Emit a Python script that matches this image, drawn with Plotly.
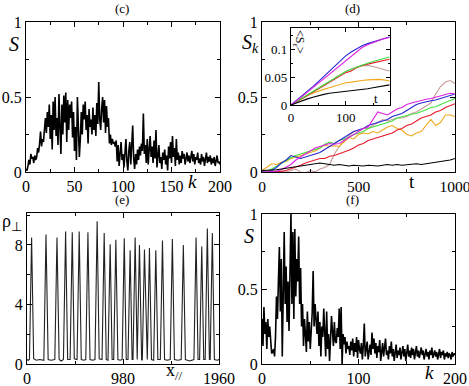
import plotly.graph_objects as go

FONT = "Liberation Serif"
W, H = 469, 386

# ---- (c) S(k) ----
k_vals = list(range(201))
s_c = [0.02, 0.01, 0.04, 0.08, 0.05, 0.12, 0.09, 0.10, 0.06, 0.11,
       0.08, 0.10, 0.16, 0.13, 0.19, 0.27, 0.17, 0.22, 0.20, 0.30,
       0.36, 0.26, 0.40, 0.30, 0.45, 0.22, 0.38, 0.15, 0.47, 0.28,
       0.50, 0.24, 0.36, 0.18, 0.52, 0.30, 0.12, 0.45, 0.25, 0.51,
       0.33, 0.53, 0.20, 0.48, 0.28, 0.45, 0.36, 0.47, 0.23, 0.40,
       0.14, 0.30, 0.08, 0.50, 0.32, 0.10, 0.22, 0.40, 0.25, 0.45,
       0.35, 0.47, 0.28, 0.38, 0.19, 0.42, 0.30, 0.35, 0.25, 0.43,
       0.28, 0.38, 0.24, 0.46, 0.32, 0.60, 0.35, 0.28, 0.42, 0.50,
       0.33, 0.48, 0.26, 0.44, 0.30, 0.36, 0.19, 0.25, 0.18, 0.22,
       0.19, 0.20, 0.17, 0.21, 0.07, 0.18, 0.04, 0.10, 0.20, 0.08,
       0.12, 0.03, 0.16, 0.22, 0.07, 0.01, 0.14, 0.20, 0.05, 0.24,
       0.31, 0.09, 0.02, 0.12, 0.05, 0.15, 0.08, 0.17, 0.11, 0.19,
       0.14, 0.39, 0.12, 0.18, 0.06, 0.22, 0.05, 0.15, 0.24, 0.10,
       0.17, 0.06, 0.21, 0.09, 0.28, 0.03, 0.12, 0.18, 0.06, 0.10,
       0.02, 0.13, 0.08, 0.15, 0.05, 0.11, 0.01, 0.17, 0.09, 0.20,
       0.06, 0.24, 0.10, 0.16, 0.04, 0.22, 0.08, 0.13, 0.05, 0.11,
       0.06, 0.14, 0.09, 0.12, 0.05, 0.10, 0.13, 0.07, 0.11, 0.06,
       0.09, 0.14, 0.07, 0.12, 0.05, 0.10, 0.08, 0.13, 0.06, 0.09,
       0.05, 0.12, 0.07, 0.10, 0.04, 0.09, 0.13, 0.06, 0.10, 0.07,
       0.11, 0.05, 0.09, 0.06, 0.10, 0.04, 0.08, 0.11, 0.06, 0.07,
       0.05]

# ---- (f) S(k) ----
s_f = [0.30, 0.12, 0.38, 0.20, 0.28, 0.10, 0.30, 0.18, 0.25, 0.12,
       0.07, 0.08, 0.10, 0.05, 0.18, 0.45, 0.30, 0.55, 0.78, 0.35,
       0.70, 0.05, 0.50, 0.88, 0.40, 0.65, 0.28, 0.55, 0.22, 0.60,
       1.00, 0.40, 0.88, 0.30, 0.90, 0.45, 0.70, 0.55, 0.85, 0.40,
       0.64, 0.25, 0.40, 0.12, 0.30, 0.20, 0.08, 0.35, 0.15, 0.28,
       0.10, 0.22, 0.34, 0.62, 0.25, 0.40, 0.30, 0.20, 0.35, 0.12,
       0.28, 0.05, 0.25, 0.18, 0.37, 0.22, 0.05, 0.35, 0.10, 0.20,
       0.02, 0.16, 0.32, 0.22, 0.12, 0.28, 0.15, 0.14, 0.24, 0.18,
       0.37, 0.10, 0.38, 0.00, 0.20, 0.13, 0.18, 0.07, 0.15, 0.10,
       0.12, 0.06, 0.15, 0.09, 0.17, 0.05, 0.14, 0.08, 0.18, 0.04,
       0.16, 0.10, 0.07, 0.14, 0.03, 0.12, 0.27, 0.05, 0.11, 0.15,
       0.03, 0.09, 0.13, 0.06, 0.21, 0.10, 0.17, 0.07, 0.14, 0.04,
       0.12, 0.08, 0.16, 0.02, 0.10, 0.14, 0.05, 0.11, 0.17, 0.06,
       0.09, 0.03, 0.12, 0.07, 0.15, 0.05, 0.10, 0.02, 0.08, 0.13,
       0.04, 0.09, 0.06, 0.11, 0.03, 0.08, 0.12, 0.05, 0.10, 0.02,
       0.07, 0.13, 0.05, 0.09, 0.04, 0.11, 0.06, 0.10, 0.03, 0.08,
       0.12, 0.05, 0.09, 0.04, 0.08, 0.11, 0.06, 0.09, 0.03, 0.07,
       0.10, 0.05, 0.08, 0.03, 0.09, 0.06, 0.11, 0.04, 0.07, 0.09,
       0.05, 0.08, 0.03, 0.07, 0.10, 0.04, 0.08, 0.06, 0.09, 0.03,
       0.07, 0.05, 0.08, 0.04, 0.07, 0.06, 0.03, 0.08, 0.05, 0.07,
       0.06]

# ---- (d) S_k(t) ----
t_main = list(range(0, 1001, 25))
sk_black = [0.01, 0.01, 0.01, 0.015, 0.02, 0.025, 0.03, 0.035, 0.04, 0.045, 0.05,
            0.055, 0.06, 0.055, 0.05, 0.045, 0.05, 0.045, 0.04, 0.045, 0.04,
            0.04, 0.045, 0.04, 0.04, 0.045, 0.05, 0.045, 0.05, 0.045, 0.05,
            0.05, 0.055, 0.05, 0.055, 0.06, 0.06, 0.065, 0.07, 0.08, 0.09]
sk_red = [0, 0, 0, 0, 0.005, 0.01, 0.02, 0.03, 0.045, 0.06, 0.07,
          0.08, 0.09, 0.09, 0.105, 0.11, 0.12, 0.13, 0.145, 0.16, 0.18,
          0.19, 0.21, 0.22, 0.23, 0.24, 0.25, 0.26, 0.28, 0.29, 0.31,
          0.32, 0.34, 0.36, 0.37, 0.38, 0.40, 0.41, 0.43, 0.44, 0.455]
sk_green = [0, 0.005, 0.02, 0.04, 0.06, 0.08, 0.095, 0.11, 0.12, 0.13, 0.14,
            0.15, 0.16, 0.185, 0.20, 0.19, 0.21, 0.22, 0.23, 0.25, 0.26,
            0.27, 0.29, 0.30, 0.31, 0.32, 0.33, 0.34, 0.36, 0.37, 0.375,
            0.385, 0.39, 0.40, 0.415, 0.43, 0.435, 0.45, 0.465, 0.48, 0.49]
sk_blue = [0, 0, 0.01, 0.03, 0.06, 0.08, 0.11, 0.10, 0.09, 0.10, 0.11,
           0.12, 0.13, 0.15, 0.17, 0.19, 0.21, 0.23, 0.25, 0.27, 0.28,
           0.29, 0.31, 0.32, 0.33, 0.34, 0.35, 0.37, 0.38, 0.39, 0.41,
           0.43, 0.45, 0.46, 0.47, 0.475, 0.48, 0.49, 0.50, 0.51, 0.52]
sk_magenta = [0, 0, 0, 0.005, 0.015, 0.03, 0.05, 0.08, 0.10, 0.12, 0.14,
              0.16, 0.17, 0.18, 0.19, 0.185, 0.19, 0.21, 0.23, 0.25, 0.27,
              0.29, 0.30, 0.35, 0.40, 0.39, 0.38, 0.40, 0.42, 0.43, 0.45,
              0.46, 0.47, 0.48, 0.485, 0.49, 0.50, 0.51, 0.52, 0.525, 0.52]
sk_orange = [0.01, 0.03, 0.055, 0.05, 0.065, 0.07, 0.09, 0.10, 0.11, 0.12, 0.13,
             0.14, 0.16, 0.18, 0.17, 0.175, 0.17, 0.20, 0.23, 0.22, 0.25,
             0.26, 0.255, 0.27, 0.26, 0.28, 0.30, 0.31, 0.29, 0.28, 0.25,
             0.24, 0.26, 0.27, 0.31, 0.35, 0.31, 0.33, 0.38, 0.38, 0.37]
sk_tan = [0.01, 0.01, 0.005, 0.01, 0.005, 0.0, 0.01, 0.02, 0.0, -0.005, 0.01,
          0.0, 0.02, 0.03, 0.05, 0.12, 0.17, 0.21, 0.24, 0.27, 0.28,
          0.29, 0.29, 0.31, 0.33, 0.35, 0.34, 0.35, 0.36, 0.36, 0.37,
          0.39, 0.40, 0.42, 0.44, 0.46, 0.52, 0.57, 0.60, 0.61, 0.59]

# ---- (d) inset <S_eps>(t) ----
t_inset = list(range(0, 181, 10))
se_blue = [0, 0.008, 0.016, 0.025, 0.033, 0.042, 0.051, 0.060, 0.069, 0.078,
           0.088, 0.095, 0.101, 0.106, 0.110, 0.113, 0.116, 0.119, 0.122]
se_magenta = [0, 0.007, 0.015, 0.023, 0.031, 0.040, 0.048, 0.056, 0.064, 0.072,
              0.080, 0.088, 0.096, 0.103, 0.108, 0.112, 0.116, 0.119, 0.121]
se_green = [0, 0.006, 0.012, 0.018, 0.024, 0.030, 0.036, 0.042, 0.048, 0.054,
            0.060, 0.064, 0.068, 0.072, 0.075, 0.078, 0.081, 0.084, 0.086]
se_red = [0, 0.005, 0.011, 0.017, 0.023, 0.029, 0.035, 0.041, 0.047, 0.053,
          0.058, 0.061, 0.067, 0.071, 0.073, 0.075, 0.078, 0.080, 0.082]
se_tan = [0, 0.006, 0.012, 0.018, 0.025, 0.031, 0.037, 0.043, 0.049, 0.055,
          0.060, 0.064, 0.068, 0.070, 0.071, 0.069, 0.066, 0.063, 0.061]
se_orange = [0, 0.006, 0.012, 0.017, 0.021, 0.025, 0.028, 0.031, 0.034, 0.037,
             0.040, 0.041, 0.043, 0.044, 0.045, 0.046, 0.046, 0.045, 0.043]
se_black = [0, 0.004, 0.008, 0.011, 0.014, 0.017, 0.019, 0.021, 0.022, 0.024,
            0.025, 0.026, 0.027, 0.028, 0.029, 0.031, 0.033, 0.035, 0.036]

# ---- (e) rho_perp(x_par) ----
x_par = [0, 12, 25, 47, 68, 95, 130, 172, 194, 216, 245, 284, 306, 328, 350, 372,
         394, 415, 440, 462, 483, 511, 533, 554, 580, 600, 622, 643, 670, 694,
         716, 737, 766, 788, 809, 827, 849, 869, 885, 907, 928, 950, 971, 993,
         1013, 1031, 1053, 1073, 1082, 1104, 1125, 1148, 1170, 1177, 1199, 1221,
         1228, 1250, 1271, 1293, 1315, 1336, 1361, 1383, 1404, 1430, 1462, 1484,
         1505, 1540, 1574, 1596, 1617, 1660, 1704, 1726, 1746, 1762, 1784, 1804,
         1819, 1841, 1862, 1870, 1892, 1913, 1940, 1960]
rho_perp = [0.3, 0.25, 0.3, 8.5, 0.35, 0.25, 0.3, 0.25, 8.7, 0.3, 0.25, 0.3, 8.5, 0.3, 0.2, 0.3,
            8.9, 0.3, 0.3, 8.85, 0.35, 0.3, 8.9, 0.3, 0.25, 0.3, 8.85, 0.3, 0.25, 0.3,
            9.6, 0.35, 0.3, 8.8, 0.3, 0.25, 8.05, 0.3, 0.3, 8.35, 0.3, 0.25, 0.3, 8.45,
            0.3, 0.3, 7.65, 0.3, 0.3, 8.5, 0.3, 8.0, 0.3, 0.25, 7.7, 0.3,
            0.3, 7.8, 0.3, 0.25, 7.65, 0.3, 0.3, 8.3, 0.3, 0.25, 0.3, 8.4,
            0.3, 0.25, 0.3, 8.0, 0.3, 0.2, 0.3, 8.5, 0.3, 0.3, 7.9, 0.3,
            0.3, 9.1, 0.3, 0.3, 8.8, 0.3, 0.25, 0.3]

COLORS = {'black': '#000000', 'red': '#e8182a', 'green': '#3fe03f', 'blue': '#2626d0',
          'magenta': '#e020e0', 'orange': '#f0a81c', 'tan': '#c89a9a'}


def px_x(p):
    return p / W


def px_y(p):
    return 1 - p / H


def frame(rng, domain, anchor, dtick, minor_dtick, size=16, ticklen=5):
    return dict(range=rng, domain=domain, anchor=anchor, dtick=dtick, tick0=0,
                automargin=False, ticklabeloverflow='allow',
                showline=True, linecolor='black', linewidth=1.3, mirror='allticks',
                ticks='inside', ticklen=ticklen, tickwidth=1, tickcolor='black',
                showgrid=False, zeroline=False,
                tickfont=dict(family=FONT, size=size, color='black'),
                minor=dict(ticks='inside', ticklen=ticklen - 2, dtick=minor_dtick,
                           tickcolor='black', showgrid=False))


fig = go.Figure()

fig.add_trace(go.Scatter(x=k_vals, y=s_c, mode='lines', xaxis='x', yaxis='y',
                         line=dict(color='black', width=1.6)))
curves = [('tan', sk_tan, se_tan), ('orange', sk_orange, se_orange), ('red', sk_red, se_red),
          ('green', sk_green, se_green), ('blue', sk_blue, se_blue),
          ('magenta', sk_magenta, se_magenta), ('black', sk_black, se_black)]
for name, main, ins in curves:
    fig.add_trace(go.Scatter(x=t_main, y=main, mode='lines', xaxis='x2', yaxis='y2',
                             line=dict(color=COLORS[name], width=1.1)))
    fig.add_trace(go.Scatter(x=t_inset, y=ins, mode='lines', xaxis='x5', yaxis='y5',
                             line=dict(color=COLORS[name], width=1.1)))
fig.add_trace(go.Scatter(x=x_par, y=rho_perp, mode='lines', xaxis='x3', yaxis='y3',
                         line=dict(color='#222222', width=1.1)))
fig.add_trace(go.Scatter(x=k_vals, y=s_f, mode='lines', xaxis='x4', yaxis='y4',
                         line=dict(color='black', width=1.6)))

dom_c_x = [px_x(26), px_x(220)]
dom_d_x = [px_x(262), px_x(455)]
dom_top_y = [px_y(172), px_y(22)]
dom_e_x = [px_x(27), px_x(219)]
dom_bot_y = [px_y(364), px_y(213)]

fig.update_layout(
    width=W, height=H,
    margin=dict(l=0, r=0, t=0, b=0, autoexpand=False),
    paper_bgcolor='white', plot_bgcolor='white',
    showlegend=False, hovermode=False,
    xaxis=frame([0, 200], dom_c_x, 'y', 50, 25),
    yaxis=frame([0, 1], dom_top_y, 'x', 0.5, 0.25),
    xaxis2=frame([0, 1000], dom_d_x, 'y2', 500, 250, size=15.5),
    yaxis2=frame([0, 1], dom_top_y, 'x2', 0.5, 0.25),
    xaxis3=frame([0, 1960], dom_e_x, 'y3', 980, 490),
    yaxis3=frame([0, 10.15], dom_bot_y, 'x3', 4, 2),
    xaxis4=frame([0, 200], dom_d_x, 'y4', 100, 50),
    yaxis4=frame([0, 1], [px_y(364), px_y(214)], 'x4', 0.5, 0.25),
    xaxis5=frame([0, 181], [px_x(291), px_x(390)], 'y5', 100, 50, size=13, ticklen=4),
    yaxis5=frame([0, 0.138], [px_y(105), px_y(28)], 'x5', 0.05, 0.025, size=13, ticklen=4),
)


def label(text, x, y, size=18, angle=0):
    fig.add_annotation(text=text, x=px_x(x), y=px_y(y), xref='paper', yref='paper',
                       xanchor='center', yanchor='middle',
                       showarrow=False, textangle=angle,
                       font=dict(family=FONT, size=size, color='black'))


label('(c)', 122, 9, 13)
label('(d)', 352, 9, 13)
label('(e)', 122, 200, 13)
label('(f)', 352, 200, 13)
label('<i>S</i>', 14, 44, 20)
label('<i>k</i>', 192, 181, 19)
label('<i>S</i><sub><i>k</i></sub>', 250, 44, 20)
label('t', 412, 181, 19)
label('ρ<sub>⊥</sub>', 12, 222, 18)
label('x<sub>//</sub>', 174, 371, 18)
label('<i>S</i>', 249, 236, 20)
label('<i>k</i>', 429, 372, 19)
label('<S<sub>ε</sub>>', 299, 42, 12, 90)
label('t', 376, 98, 13)

# the page body has a default 8px margin; drop it so the figure fills the window
fig.write_html("out.html", config={'displayModeBar': False},
               post_script="document.body.style.margin = '0px';")
